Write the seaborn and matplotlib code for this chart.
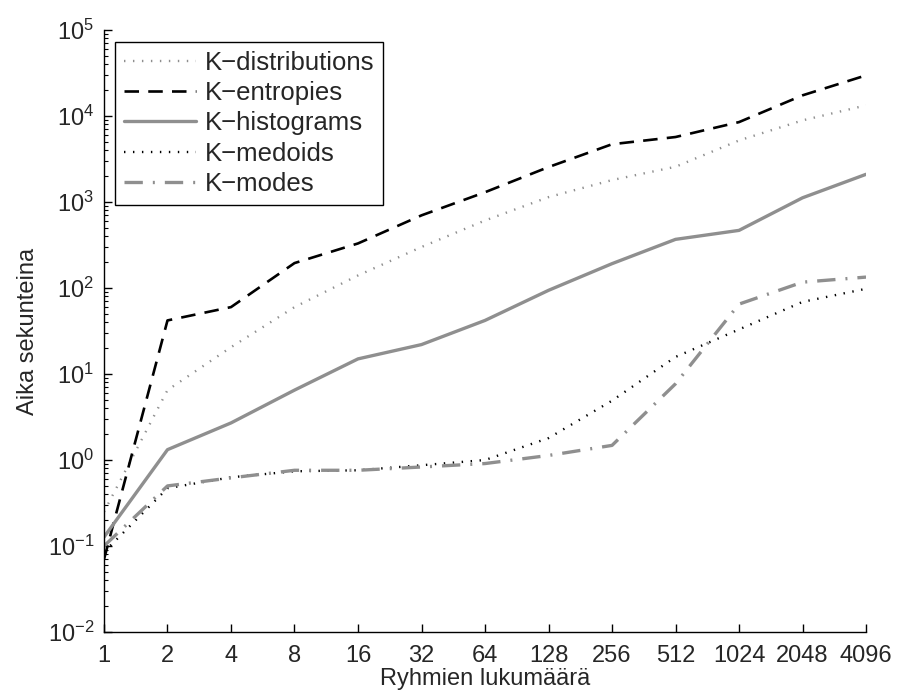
import numpy as np
import pandas as pd
import matplotlib
matplotlib.use("Agg")
import matplotlib.pyplot as plt
import seaborn as sns

groups = [1, 2, 4, 8, 16, 32, 64, 128, 256, 512, 1024, 2048, 4096]

k_distributions = [0.25, 6.5, 20.5, 60, 140, 300, 610, 1140, 1800, 2570, 5200, 8900, 13300]
k_entropies = [0.07, 42, 60, 195, 330, 700, 1300, 2550, 4700, 5700, 8500, 17400, 29700]
k_histograms = [0.127, 1.32, 2.7, 6.5, 15, 22, 42, 94, 192, 368, 468, 1120, 2100]
k_medoids = [0.085, 0.47, 0.63, 0.74, 0.76, 0.87, 1.0, 1.8, 4.9, 15.8, 33, 69, 98]
k_modes = [0.1, 0.5, 0.62, 0.76, 0.76, 0.83, 0.91, 1.13, 1.48, 7.7, 65, 117, 134]

series_names = ["K\u2212distributions", "K\u2212entropies", "K\u2212histograms",
                "K\u2212medoids", "K\u2212modes"]
series_values = [k_distributions, k_entropies, k_histograms, k_medoids, k_modes]

gray = "#8f8f8f"
styles = [
    dict(color=gray, linestyle=(0, (0.6, 3.2)), linewidth=1.7),
    dict(color="black", linestyle=(0, (5.5, 3.5)), linewidth=1.9),
    dict(color=gray, linestyle="-", linewidth=2.4),
    dict(color="black", linestyle=(0, (0.6, 3.2)), linewidth=1.7),
    dict(color=gray, linestyle=(0, (5.5, 3, 0.6, 3)), linewidth=2.4),
]

sns.set_style("ticks")
plt.rcParams["font.family"] = ["Liberation Sans", "DejaVu Sans"]
plt.rcParams["mathtext.fontset"] = "custom"
plt.rcParams["mathtext.rm"] = "Liberation Sans"

fig = plt.figure(figsize=(8.98, 6.95), dpi=100)
ax = fig.add_axes([0.1158, 0.0906, 0.8486, 0.8662])

for name, vals, st in zip(series_names, series_values, styles):
    df = pd.DataFrame({"groups": groups, "time": vals})
    sns.lineplot(data=df, x="groups", y="time", ax=ax, label=name, **st)

ax.set_xscale("log", base=2)
ax.set_yscale("log")
ax.set_xlim(1, 4096)
ax.set_ylim(1e-2, 1e5)
ax.set_xticks(groups)
ax.set_xticklabels([str(g) for g in groups])
ax.xaxis.set_minor_locator(matplotlib.ticker.NullLocator())
ax.set_yticks([10.0 ** k for k in range(-2, 6)])
ax.yaxis.set_minor_locator(matplotlib.ticker.LogLocator(base=10, subs=np.arange(2, 10)))
ax.tick_params(axis="both", which="both", direction="in", labelsize=17, color="black")
ax.tick_params(axis="x", pad=9)
ax.tick_params(axis="y", pad=7)
ax.tick_params(which="major", length=6, width=1)
ax.tick_params(which="minor", length=3, width=0.8)

ax.set_xlabel("Ryhmien lukumäärä", fontsize=17, labelpad=1)
ax.set_ylabel("Aika sekunteina", fontsize=17, labelpad=6)

for side in ["top", "right"]:
    ax.spines[side].set_visible(False)
for side in ["left", "bottom"]:
    ax.spines[side].set_color("black")
    ax.spines[side].set_linewidth(1)

leg = ax.legend(loc="upper left", bbox_to_anchor=(0.015, 0.98), fontsize=18.5,
                frameon=True, fancybox=False, framealpha=1, edgecolor="black",
                handlelength=2.8, handletextpad=0.35, borderpad=0.33, labelspacing=0.25,
                borderaxespad=0)
leg.get_frame().set_linewidth(1)

fig.savefig("out.png", dpi=100)
